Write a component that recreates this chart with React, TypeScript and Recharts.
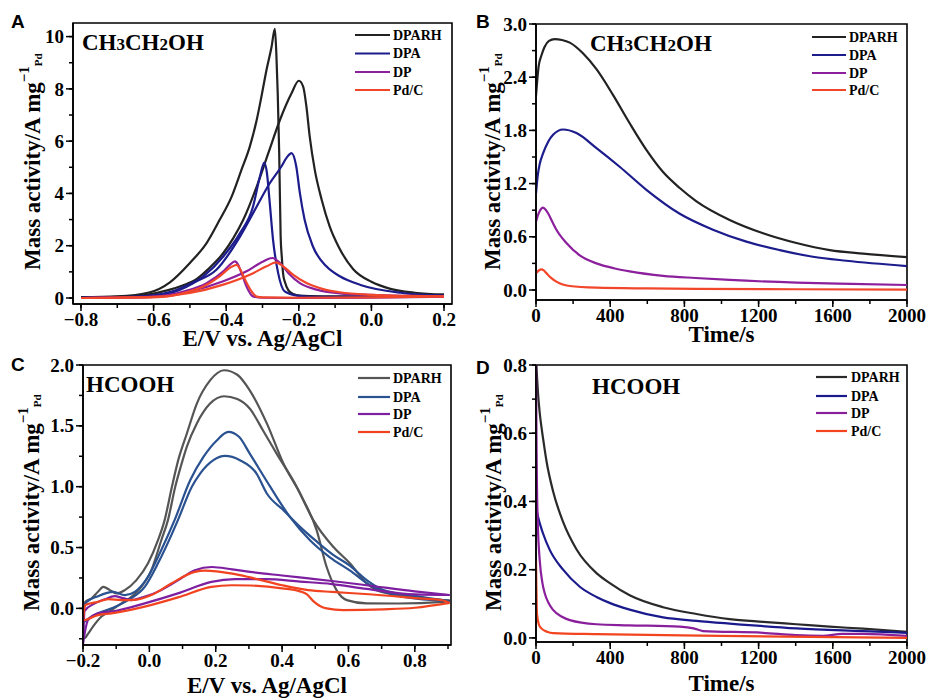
import React from 'react';
import { LineChart, Line, XAxis, YAxis, ReferenceArea, Legend } from 'recharts';

type Pt = [number, number];

const SERIES = ['DPARH', 'DPA', 'DP', 'Pd/C'];

// ---------------- Panel A : CV in ethanol (forward / backward scans)
const A_DPARH_FWD: Pt[] = [[-0.8,0.02],[-0.7,0.04],[-0.62,0.12],[-0.56,0.3],[-0.52,0.48],[-0.482,0.72],[-0.45,1.1],[-0.408,1.72],[-0.38,2.3],[-0.353,2.99],[-0.316,4.26],[-0.284,5.54],[-0.252,6.81],[-0.22,7.83],[-0.2,8.31],[-0.188,8.09],[-0.179,7.32],[-0.17,6.18],[-0.156,4.9],[-0.137,3.76],[-0.115,2.74],[-0.09,1.95],[-0.05,1.1],[0,0.62],[0.05,0.36],[0.12,0.2],[0.2,0.13]];
const A_DPARH_BWD: Pt[] = [[0.2,0.13],[0.1,0.07],[0,0.06],[-0.1,0.06],[-0.17,0.07],[-0.197,0.09],[-0.215,0.15],[-0.229,0.3],[-0.238,0.6],[-0.243,0.9],[-0.247,1.6],[-0.25,2.35],[-0.254,5.54],[-0.258,7.8],[-0.262,9.4],[-0.266,10.3],[-0.275,9.61],[-0.289,8.72],[-0.303,7.7],[-0.316,6.81],[-0.335,5.79],[-0.358,4.9],[-0.385,3.88],[-0.418,2.99],[-0.454,2.1],[-0.5,1.34],[-0.555,0.6],[-0.61,0.22],[-0.7,0.06],[-0.8,0.03]];
const A_DPA_FWD: Pt[] = [[-0.8,0.01],[-0.65,0.05],[-0.55,0.25],[-0.49,0.6],[-0.427,1.08],[-0.362,2.35],[-0.321,3.37],[-0.28,4.39],[-0.248,5.03],[-0.232,5.4],[-0.22,5.54],[-0.207,5.03],[-0.197,4.01],[-0.184,2.99],[-0.161,1.97],[-0.124,1.21],[-0.087,0.83],[-0.03,0.5],[0.08,0.2],[0.2,0.09]];
const A_DPA_BWD: Pt[] = [[0.2,0.09],[0,0.04],[-0.15,0.04],[-0.206,0.09],[-0.239,0.25],[-0.257,0.96],[-0.271,2.23],[-0.28,3.63],[-0.288,4.8],[-0.295,5.18],[-0.307,4.65],[-0.326,3.5],[-0.362,2.48],[-0.408,1.59],[-0.463,0.83],[-0.527,0.32],[-0.601,0.06],[-0.7,0.02],[-0.8,0.01]];
const A_DP_FWD: Pt[] = [[-0.8,0],[-0.6,0.04],[-0.5,0.25],[-0.408,0.64],[-0.344,1.02],[-0.298,1.4],[-0.273,1.53],[-0.252,1.34],[-0.229,0.96],[-0.197,0.57],[-0.151,0.32],[-0.087,0.18],[0,0.12],[0.1,0.08],[0.2,0.05]];
const A_DP_BWD: Pt[] = [[0.2,0.05],[0,0.01],[-0.2,0],[-0.3,0.01],[-0.326,0.06],[-0.344,0.44],[-0.358,0.96],[-0.367,1.27],[-0.376,1.4],[-0.39,1.27],[-0.408,1.02],[-0.454,0.57],[-0.518,0.25],[-0.59,0.06],[-0.7,0.01],[-0.8,0]];
const A_PDC_FWD: Pt[] = [[-0.8,0],[-0.6,0.04],[-0.5,0.19],[-0.408,0.51],[-0.335,0.89],[-0.289,1.21],[-0.263,1.36],[-0.243,1.21],[-0.216,0.89],[-0.179,0.57],[-0.133,0.34],[-0.087,0.22],[0,0.12],[0.1,0.08],[0.2,0.06]];
const A_PDC_BWD: Pt[] = [[0.2,0.06],[0,0.02],[-0.2,0.01],[-0.3,0.02],[-0.316,0.05],[-0.33,0.25],[-0.348,0.7],[-0.362,1.11],[-0.371,1.27],[-0.39,1.15],[-0.418,0.83],[-0.463,0.44],[-0.527,0.16],[-0.59,0.03],[-0.7,0.01],[-0.8,0]];

// ---------------- Panel B : chronoamperometry in ethanol
const B_DPARH: Pt[] = [[0,2.19],[14,2.52],[30,2.65],[46,2.74],[70,2.81],[101,2.83],[140,2.82],[182,2.79],[253,2.67],[326,2.49],[415,2.2],[505,1.88],[595,1.58],[685,1.33],[775,1.15],[865,1.0],[1044,0.79],[1224,0.64],[1404,0.53],[1583,0.45],[1763,0.41],[2000,0.37]];
const B_DPA: Pt[] = [[0,1.09],[10,1.3],[20,1.42],[38,1.54],[65,1.67],[92,1.75],[146,1.81],[218,1.77],[326,1.6],[451,1.39],[595,1.13],[775,0.86],[954,0.68],[1134,0.545],[1314,0.45],[1493,0.375],[1673,0.33],[2000,0.27]];
const B_DP: Pt[] = [[0,0.77],[10,0.84],[20,0.89],[38,0.93],[50,0.91],[65,0.865],[90,0.76],[110,0.68],[164,0.53],[236,0.39],[326,0.3],[420,0.245],[505,0.21],[685,0.16],[860,0.135],[1044,0.113],[1404,0.083],[1700,0.068],[2000,0.056]];
const B_PDC: Pt[] = [[0,0.19],[15,0.22],[29,0.233],[42,0.22],[56,0.19],[80,0.14],[110,0.094],[140,0.065],[182,0.045],[326,0.026],[600,0.017],[865,0.012],[1400,0.008],[2000,0.005]];

// ---------------- Panel C : CV in formic acid
const C_DPARH_FWD: Pt[] = [[-0.2,-0.25],[-0.198,0],[-0.193,0.054],[-0.175,0.08],[-0.155,0.136],[-0.139,0.177],[-0.119,0.15],[-0.099,0.123],[-0.074,0.15],[-0.039,0.232],[-0.004,0.37],[0.026,0.56],[0.046,0.725],[0.068,1.0],[0.087,1.218],[0.113,1.437],[0.143,1.683],[0.183,1.874],[0.225,1.957],[0.265,1.92],[0.303,1.79],[0.354,1.52],[0.404,1.19],[0.454,0.944],[0.504,0.643],[0.534,0.342],[0.564,0.15],[0.595,0.068],[0.655,0.041],[0.75,0.04],[0.886,0.054],[0.905,0.065]];
const C_DPARH_BWD: Pt[] = [[0.905,0.065],[0.886,0.068],[0.755,0.109],[0.685,0.15],[0.655,0.205],[0.605,0.369],[0.554,0.506],[0.494,0.725],[0.444,1.0],[0.384,1.27],[0.343,1.46],[0.303,1.64],[0.265,1.72],[0.225,1.743],[0.183,1.683],[0.143,1.52],[0.113,1.33],[0.094,1.16],[0.078,1.0],[0.056,0.725],[0.036,0.56],[0.006,0.314],[-0.024,0.177],[-0.054,0.095],[-0.084,0.041],[-0.114,-0.014],[-0.145,-0.069],[-0.17,-0.15],[-0.185,-0.21],[-0.193,-0.24],[-0.2,-0.25]];
const C_DPA_FWD: Pt[] = [[-0.2,-0.12],[-0.197,0],[-0.19,0.05],[-0.155,0.1],[-0.109,0.136],[-0.074,0.109],[-0.044,0.136],[-0.004,0.26],[0.036,0.48],[0.076,0.725],[0.123,1.053],[0.163,1.245],[0.203,1.38],[0.238,1.45],[0.27,1.41],[0.303,1.27],[0.364,1.0],[0.424,0.75],[0.484,0.56],[0.544,0.42],[0.605,0.31],[0.665,0.19],[0.725,0.12],[0.805,0.08],[0.905,0.06]];
const C_DPA_BWD: Pt[] = [[0.905,0.06],[0.805,0.1],[0.705,0.15],[0.655,0.232],[0.605,0.35],[0.554,0.44],[0.504,0.55],[0.454,0.67],[0.404,0.807],[0.354,0.944],[0.323,1.108],[0.273,1.218],[0.228,1.253],[0.193,1.218],[0.153,1.108],[0.128,1.0],[0.086,0.725],[0.066,0.6],[0.026,0.37],[-0.014,0.177],[-0.064,0.068],[-0.114,0],[-0.155,-0.041],[-0.19,-0.096],[-0.2,-0.12]];
const C_DP_FWD: Pt[] = [[-0.2,-0.29],[-0.195,-0.02],[-0.164,0.041],[-0.134,0.075],[-0.105,0.1],[-0.08,0.085],[-0.055,0.068],[-0.02,0.09],[0.036,0.15],[0.086,0.23],[0.137,0.314],[0.188,0.34],[0.25,0.32],[0.303,0.3],[0.4,0.27],[0.48,0.246],[0.55,0.225],[0.655,0.19],[0.8,0.14],[0.905,0.11]];
const C_DP_BWD: Pt[] = [[0.905,0.11],[0.8,0.115],[0.655,0.16],[0.55,0.2],[0.454,0.22],[0.35,0.24],[0.258,0.24],[0.187,0.218],[0.086,0.123],[-0.014,0.041],[-0.1,-0.02],[-0.155,-0.041],[-0.185,-0.096],[-0.2,-0.29]];
const C_PDC_FWD: Pt[] = [[-0.2,-0.1],[-0.193,-0.096],[-0.155,-0.055],[-0.114,-0.041],[-0.014,0.014],[0.086,0.09],[0.187,0.177],[0.248,0.19],[0.303,0.188],[0.4,0.165],[0.454,0.14],[0.475,0.115],[0.494,0.06],[0.514,0.02],[0.534,0],[0.584,-0.014],[0.705,-0.008],[0.8,0.005],[0.905,0.045]];
const C_PDC_BWD: Pt[] = [[0.905,0.045],[0.886,0.065],[0.8,0.085],[0.65,0.118],[0.55,0.135],[0.479,0.15],[0.4,0.19],[0.303,0.255],[0.25,0.285],[0.168,0.31],[0.137,0.3],[0.066,0.205],[0.006,0.109],[-0.044,0.07],[-0.084,0.068],[-0.124,0.076],[-0.155,0.054],[-0.193,0.027],[-0.2,-0.1]];

// ---------------- Panel D : chronoamperometry in formic acid
const D_DPARH: Pt[] = [[2,0.8],[6,0.76],[11,0.716],[20,0.66],[29,0.62],[42,0.57],[56,0.52],[92,0.43],[146,0.34],[218,0.26],[326,0.19],[400,0.16],[505,0.125],[685,0.09],[865,0.07],[1044,0.055],[1224,0.047],[1404,0.04],[1583,0.033],[1763,0.027],[2000,0.018]];
const D_DPA: Pt[] = [[0,0.384],[11,0.355],[38,0.306],[74,0.258],[146,0.2],[236,0.15],[326,0.12],[400,0.102],[505,0.083],[685,0.06],[865,0.05],[1044,0.042],[1404,0.028],[1763,0.02],[2000,0.015]];
const D_DP: Pt[] = [[0,0.8],[3,0.55],[5,0.45],[10,0.33],[20,0.228],[35,0.16],[47,0.131],[70,0.1],[92,0.082],[140,0.062],[182,0.052],[326,0.04],[500,0.037],[775,0.033],[850,0.028],[900,0.02],[1224,0.015],[1400,0.008],[1547,0.006],[1650,0.012],[1763,0.012],[2000,0.006]];
const D_PDC: Pt[] = [[0,0.228],[2,0.15],[5,0.072],[15,0.04],[29,0.028],[60,0.018],[92,0.014],[326,0.011],[1000,0.006],[2000,0]];

// ---------------- ticks
const A_X_TICKS = [-0.8,-0.7,-0.6,-0.5,-0.4,-0.3,-0.2,-0.1,0,0.1,0.2];
const A_X_MAJOR = [-0.8,-0.6,-0.4,-0.2,0,0.2];
const A_Y_TICKS = [0,1,2,3,4,5,6,7,8,9,10];
const A_Y_MAJOR = [0,2,4,6,8,10];
const T_X_TICKS = [0,200,400,600,800,1000,1200,1400,1600,1800,2000];
const T_X_MAJOR = [0,400,800,1200,1600,2000];
const B_Y_TICKS = [0,0.3,0.6,0.9,1.2,1.5,1.8,2.1,2.4,2.7,3.0];
const B_Y_MAJOR = [0,0.6,1.2,1.8,2.4,3.0];
const C_X_TICKS = [-0.2,-0.1,0,0.1,0.2,0.3,0.4,0.5,0.6,0.7,0.8,0.9];
const C_X_MAJOR = [-0.2,0,0.2,0.4,0.6,0.8];
const C_Y_TICKS = [-0.25,0,0.25,0.5,0.75,1.0,1.25,1.5,1.75,2.0];
const C_Y_MAJOR = [0,0.5,1.0,1.5,2.0];
const D_Y_TICKS = [0,0.1,0.2,0.3,0.4,0.5,0.6,0.7,0.8];
const D_Y_MAJOR = [0,0.2,0.4,0.6,0.8];

const SERIF = "'Liberation Serif', 'Times New Roman', Times, serif";
const SANS = "'Liberation Sans', Arial, Helvetica, sans-serif";

const COLORS_AB = ['#222222', '#1c1c8c', '#8c1f9c', '#f2462a'];
const COLORS_C = ['#555555', '#2a5190', '#7d1fa0', '#f1431f'];
const COLORS_D = ['#2a2a2a', '#1a1a8c', '#8a1f9c', '#f2441f'];

const minus = (s: string) => s.replace('-', '\u2212');
const f1 = (v: number) => minus(v.toFixed(1));
const f0 = (v: number) => minus(v.toFixed(0));

const MINOR = 4; // built-in tick length (minor ticks)
const MAJOR = 7; // major tick length

interface TitlePart { t: string; small?: boolean }
interface PanelCfg {
  left: number; top: number;
  plot: { l: number; r: number; t: number; b: number };
  xDomain: [number, number]; yDomain: [number, number];
  xTicks: number[]; xMajor: number[]; yTicks: number[]; yMajor: number[];
  xFmt: (v: number) => string; yFmt: (v: number) => string;
  xTitle: string; xTitleY: number;
  yTitleX: number; yTitleY: number;
  letter: string; letterX: number; letterY: number;
  title: TitlePart[]; titleX: number; titleY: number;
  legend: { x1: number; x2: number; tx: number; rows: number[] };
  colors: string[];
  curves: Pt[][][];
}

const ETOH: TitlePart[] = [{ t: 'CH' }, { t: '3', small: true }, { t: 'CH' }, { t: '2', small: true }, { t: 'OH' }];
const HCOOH: TitlePart[] = [{ t: 'HCOOH' }];

const PANELS: PanelCfg[] = [
  {
    left: 0, top: 0, plot: { l: 73, r: 452, t: 23, b: 304 },
    xDomain: [-0.822, 0.222], yDomain: [-0.23, 10.52],
    xTicks: A_X_TICKS, xMajor: A_X_MAJOR, yTicks: A_Y_TICKS, yMajor: A_Y_MAJOR, xFmt: f1, yFmt: f0,
    xTitle: 'E/V vs. Ag/AgCl', xTitleY: 346, yTitleX: 40, yTitleY: 270,
    letter: 'A', letterX: 11, letterY: 28, title: ETOH, titleX: 82, titleY: 50,
    legend: { x1: 355, x2: 390, tx: 393, rows: [35, 53.5, 72, 90] },
    colors: COLORS_AB,
    curves: [[A_DPARH_FWD, A_DPARH_BWD], [A_DPA_FWD, A_DPA_BWD], [A_DP_FWD, A_DP_BWD], [A_PDC_FWD, A_PDC_BWD]],
  },
  {
    left: 464, top: 0, plot: { l: 72, r: 443, t: 24, b: 300 },
    xDomain: [0, 2000], yDomain: [-0.113, 3.0],
    xTicks: T_X_TICKS, xMajor: T_X_MAJOR, yTicks: B_Y_TICKS, yMajor: B_Y_MAJOR, xFmt: f0, yFmt: f1,
    xTitle: 'Time/s', xTitleY: 342, yTitleX: 36, yTitleY: 270,
    letter: 'B', letterX: 12, letterY: 28, title: ETOH, titleX: 126, titleY: 51,
    legend: { x1: 348, x2: 382, tx: 385, rows: [37, 55, 73, 90] },
    colors: COLORS_AB,
    curves: [[B_DPARH], [B_DPA], [B_DP], [B_PDC]],
  },
  {
    left: 0, top: 349, plot: { l: 83, r: 451, t: 16, b: 296 },
    xDomain: [-0.2, 0.909], yDomain: [-0.301, 2.0],
    xTicks: C_X_TICKS, xMajor: C_X_MAJOR, yTicks: C_Y_TICKS, yMajor: C_Y_MAJOR, xFmt: f1, yFmt: f1,
    xTitle: 'E/V vs. Ag/AgCl', xTitleY: 344, yTitleX: 39, yTitleY: 262,
    letter: 'C', letterX: 11, letterY: 22, title: HCOOH, titleX: 86, titleY: 43,
    legend: { x1: 358, x2: 390, tx: 393, rows: [29, 48, 65, 83] },
    colors: COLORS_C,
    curves: [[C_DPARH_FWD, C_DPARH_BWD], [C_DPA_FWD, C_DPA_BWD], [C_DP_FWD, C_DP_BWD], [C_PDC_FWD, C_PDC_BWD]],
  },
  {
    left: 464, top: 349, plot: { l: 72, r: 443, t: 16, b: 293 },
    xDomain: [0, 2000], yDomain: [-0.012, 0.8],
    xTicks: T_X_TICKS, xMajor: T_X_MAJOR, yTicks: D_Y_TICKS, yMajor: D_Y_MAJOR, xFmt: f0, yFmt: f1,
    xTitle: 'Time/s', xTitleY: 342, yTitleX: 37, yTitleY: 262,
    letter: 'D', letterX: 12, letterY: 25, title: HCOOH, titleX: 128, titleY: 45,
    legend: { x1: 352, x2: 383, tx: 387, rows: [28, 47, 64, 82] },
    colors: COLORS_D,
    curves: [[D_DPARH], [D_DPA], [D_DP], [D_PDC]],
  },
];

const toObj = (a: Pt[]) => a.map(([x, y]) => ({ x, y }));
const isIn = (arr: number[], v: number) => arr.some((m) => Math.abs(m - v) < 1e-6);

function Panel({ cfg }: { cfg: PanelCfg }) {
  const W = 464;
  const H = 360;
  const { plot } = cfg;
  const margin = { left: plot.l - 60, right: W - plot.r, top: plot.t, bottom: H - plot.b - 40 };
  const cx = (plot.l + plot.r) / 2;

  const xTick = (p: any) => {
    const { x, y, payload } = p;
    const v = payload.value as number;
    const major = isIn(cfg.xMajor, v);
    const base = y - MINOR; // axis line
    return (
      <g>
        {major && <line x1={x} x2={x} y1={base} y2={base + MAJOR} stroke="#000" strokeWidth={1.5} />}
        {major && (
          <text x={x} y={base + 22} textAnchor="middle" fontFamily={SERIF} fontWeight={700} fontSize={19} fill="#000">
            {cfg.xFmt(v)}
          </text>
        )}
      </g>
    );
  };
  const yTick = (p: any) => {
    const { x, y, payload } = p;
    const v = payload.value as number;
    const major = isIn(cfg.yMajor, v);
    const base = x + MINOR; // axis line
    return (
      <g>
        {major && <line x1={base} x2={base - MAJOR} y1={y} y2={y} stroke="#000" strokeWidth={1.5} />}
        {major && (
          <text x={base - 9} y={y} dy="0.35em" textAnchor="end" fontFamily={SERIF} fontWeight={700} fontSize={19} fill="#000">
            {cfg.yFmt(v)}
          </text>
        )}
      </g>
    );
  };
  const xTitle = () => (
    <text x={cx} y={cfg.xTitleY} textAnchor="middle" fontFamily={SERIF} fontWeight={700} fontSize={23} fill="#000">
      {cfg.xTitle}
    </text>
  );
  const yTitle = () => (
    <text
      x={cfg.yTitleX}
      y={cfg.yTitleY}
      transform={`rotate(-90 ${cfg.yTitleX} ${cfg.yTitleY})`}
      fontFamily={SERIF}
      fontWeight={700}
      fontSize={23}
      fill="#000"
    >
      Mass activity/A mg
      <tspan dy={-11} fontSize={15}>{'\u22121'}</tspan>
      <tspan dy={13} fontSize={11}>Pd</tspan>
    </text>
  );
  const annot = () => (
    <g>
      <text x={cfg.letterX} y={cfg.letterY} fontFamily={SANS} fontWeight={700} fontSize={19} fill="#000">
        {cfg.letter}
      </text>
      <text x={cfg.titleX} y={cfg.titleY} fontFamily={SERIF} fontWeight={700} fontSize={23} fill="#000">
        {cfg.title.map((p, i) => (
          <tspan key={i} fontSize={p.small ? 17 : 23}>{p.t}</tspan>
        ))}
      </text>
    </g>
  );
  const lg = cfg.legend;
  const lgLeft = lg.x1 - 2;
  const lgTop = lg.rows[0] - 11;
  const legendContent = () => (
    <svg width={110} height={80} style={{ display: 'block' }}>
      {SERIES.map((name, i) => (
        <g key={name}>
          <line x1={lg.x1 - lgLeft} x2={lg.x2 - lgLeft} y1={lg.rows[i] - lgTop} y2={lg.rows[i] - lgTop} stroke={cfg.colors[i]} strokeWidth={2.2} />
          <text x={lg.tx - lgLeft} y={lg.rows[i] - lgTop} dy="0.35em" fontFamily={SERIF} fontWeight={700} fontSize={14} fill="#000">
            {name}
          </text>
        </g>
      ))}
    </svg>
  );

  return (
    <LineChart width={W} height={H} margin={margin}>
      <XAxis
        type="number"
        dataKey="x"
        domain={cfg.xDomain}
        allowDataOverflow
        ticks={cfg.xTicks}
        interval={0}
        tickSize={MINOR}
        tickMargin={0}
        tickLine={{ stroke: '#000', strokeWidth: 1.5 }}
        axisLine={{ stroke: '#000', strokeWidth: 1.6 }}
        height={40}
        tick={xTick}
        label={xTitle}
      />
      <YAxis
        type="number"
        domain={cfg.yDomain}
        allowDataOverflow
        ticks={cfg.yTicks}
        interval={0}
        tickSize={MINOR}
        tickMargin={0}
        tickLine={{ stroke: '#000', strokeWidth: 1.5 }}
        axisLine={{ stroke: '#000', strokeWidth: 1.6 }}
        width={60}
        tick={yTick}
        label={yTitle}
      />
      <ReferenceArea
        x1={cfg.xDomain[0]}
        x2={cfg.xDomain[1]}
        y1={cfg.yDomain[0]}
        y2={cfg.yDomain[1]}
        fill="none"
        fillOpacity={0}
        stroke="#000"
        strokeWidth={1.6}
        strokeOpacity={1}
        label={annot}
      />
      {cfg.curves.flatMap((segs, si) =>
        segs.map((seg, k) => (
          <Line
            key={`${si}-${k}`}
            data={toObj(seg)}
            dataKey="y"
            type="monotone"
            stroke={cfg.colors[si]}
            strokeWidth={2.2}
            dot={false}
            activeDot={false}
            isAnimationActive={false}
            legendType="none"
          />
        ))
      )}
      <Legend
        layout="vertical"
        align="center"
        verticalAlign="middle"
        wrapperStyle={{ left: lgLeft, top: lgTop, width: 110, height: 80 }}
        content={legendContent}
      />
    </LineChart>
  );
}

export default function App() {
  return (
    <div style={{ position: 'absolute', left: 0, top: 0, width: 928, height: 698, background: '#fff', overflow: 'hidden' }}>
      {PANELS.map((cfg, i) => (
        <div key={i} style={{ position: 'absolute', left: cfg.left, top: cfg.top, width: 464, height: 360 }}>
          <Panel cfg={cfg} />
        </div>
      ))}
    </div>
  );
}
